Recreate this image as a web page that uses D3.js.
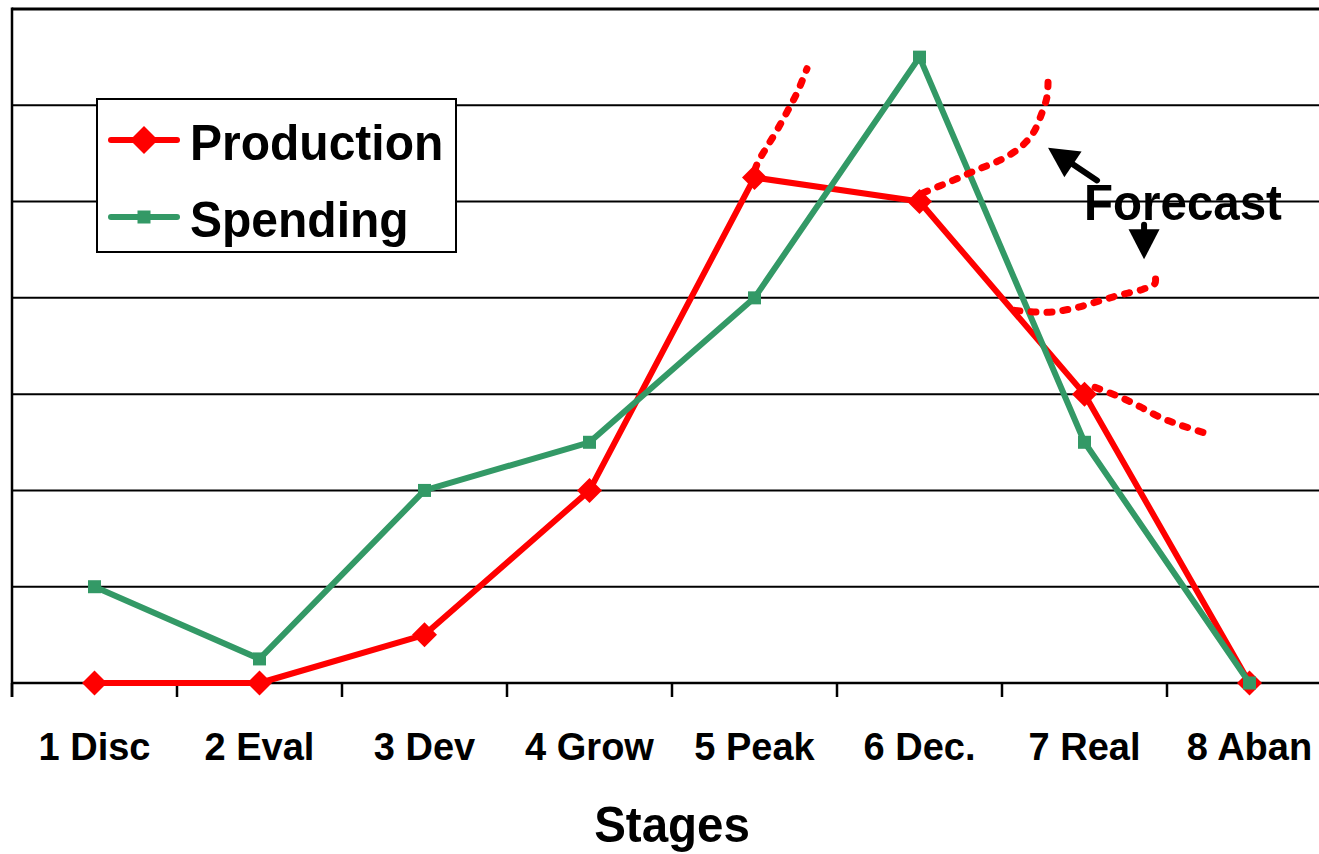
<!DOCTYPE html>
<html>
<head>
<meta charset="utf-8">
<script src="https://cdn.jsdelivr.net/npm/d3@7"></script>
<style>
  html, body { margin: 0; padding: 0; background: #fff; }
  svg { display: block; font-family: "Liberation Sans", Arial, Helvetica, sans-serif; font-weight: bold; }
</style>
</head>
<body>
<svg id="chart" width="1319" height="854"></svg>
<script>
// Stage categories along the x axis
const stages = ["1 Disc", "2 Eval", "3 Dev", "4 Grow", "5 Peak", "6 Dec.", "7 Real", "8 Aban"];
// Series values per stage
const production = [0, 0, 0.5, 2, 5.25, 5, 3, 0];
const spending   = [1, 0.25, 2, 2.5, 4, 6.5, 2.5, 0];
// Gridline values
const gridValues = [1, 2, 3, 4, 5, 6, 7];

// Forecast branches: [stage position (0 = first stage), value]
const forecastPeak = [[4.003, 5.33], [4.021, 5.41], [4.076, 5.57], [4.136, 5.74], [4.203, 5.95], [4.258, 6.13], [4.318, 6.38]];
const forecastDec  = [[5.021, 5.09], [5.203, 5.22], [5.348, 5.33], [5.488, 5.43], [5.609, 5.56], [5.688, 5.71], [5.742, 5.92], [5.773, 6.09], [5.779, 6.24]];
const forecastMid  = [[5.579, 3.87], [5.773, 3.85], [5.930, 3.89], [6.076, 3.96], [6.215, 4.03], [6.355, 4.09], [6.427, 4.15], [6.427, 4.24]];
const forecastReal = [[6.064, 3.07], [6.215, 2.97], [6.336, 2.87], [6.458, 2.76], [6.579, 2.68], [6.742, 2.59]];
const forecasts = [forecastPeak, forecastDec, forecastMid, forecastReal];

// "Forecast" note and its arrows: [[tailPos, tailVal], [tipPos, tipVal]]
const noteLabel = "Forecast";
const noteAnchor = [5.997, 4.81];
const noteArrows = [
  [[6.076, 5.22], [5.779, 5.56]],
  [[6.361, 4.76], [6.361, 4.40]]
];

const RED = "#ff0000";
const GREEN = "#339966";

const svg = d3.select("#chart");
const plotLeft = 12, plotRight = 1332, plotTop = 9, plotBottom = 683;

const x = d3.scaleBand().domain(stages).range([plotLeft, plotRight]).padding(0);
const bw = x.bandwidth();
const xPos = t => plotLeft + bw * (t + 0.5);
const y = d3.scaleLinear().domain([0, 7]).range([plotBottom, plotTop]);

// Horizontal gridlines
svg.append("g").selectAll("line")
  .data(gridValues.slice(0, -1))
  .join("line")
  .attr("x1", plotLeft).attr("x2", plotRight)
  .attr("y1", d => y(d)).attr("y2", d => y(d))
  .attr("stroke", "#000").attr("stroke-width", 2);

// Plot frame top edge
svg.append("line")
  .attr("x1", plotLeft).attr("x2", plotRight)
  .attr("y1", y(7)).attr("y2", y(7))
  .attr("stroke", "#000").attr("stroke-width", 3);

// Left axis
svg.append("line")
  .attr("x1", plotLeft).attr("x2", plotLeft)
  .attr("y1", y(7) - 1.5).attr("y2", plotBottom + 14)
  .attr("stroke", "#000").attr("stroke-width", 2.5);

// Bottom axis with category-boundary ticks
const xAxis = d3.axisBottom(x).tickSize(0).tickPadding(0).tickFormat(() => "");
const gx = svg.append("g").attr("transform", `translate(0,${plotBottom})`).call(xAxis);
gx.select(".domain").attr("stroke", "#000").attr("stroke-width", 2.5).attr("d", `M${plotLeft},0H${plotRight}`);
gx.selectAll(".tick line").remove();
svg.append("g").selectAll("line")
  .data(d3.range(stages.length + 1))
  .join("line")
  .attr("x1", i => plotLeft + bw * i).attr("x2", i => plotLeft + bw * i)
  .attr("y1", plotBottom).attr("y2", plotBottom + 14)
  .attr("stroke", "#000").attr("stroke-width", 2.5);

// Category labels
svg.append("g").selectAll("text")
  .data(stages)
  .join("text")
  .attr("x", d => x(d) + bw / 2)
  .attr("y", 760)
  .attr("text-anchor", "middle")
  .attr("font-size", 38)
  .attr("fill", "#000")
  .text(d => d);

// Axis title
svg.append("text")
  .attr("text-anchor", "middle")
  .attr("font-size", 47.5)
  .attr("transform", `translate(${(plotLeft + plotRight) / 2},842) scale(1,1.05)`)
  .text("Stages");

// Series lines and markers
const line = d3.line().x((d, i) => x(stages[i]) + bw / 2).y(d => y(d));

function diamond(cx, cy, r) {
  return `M${cx},${cy - r}L${cx + r},${cy}L${cx},${cy + r}L${cx - r},${cy}Z`;
}

svg.append("path").datum(production)
  .attr("d", line).attr("fill", "none")
  .attr("stroke", RED).attr("stroke-width", 6).attr("stroke-linejoin", "round");
svg.append("g").selectAll("path")
  .data(production)
  .join("path")
  .attr("d", (d, i) => diamond(x(stages[i]) + bw / 2, y(d), 12.5))
  .attr("fill", RED);

svg.append("path").datum(spending)
  .attr("d", line).attr("fill", "none")
  .attr("stroke", GREEN).attr("stroke-width", 6).attr("stroke-linejoin", "round");
svg.append("g").selectAll("rect")
  .data(spending)
  .join("rect")
  .attr("x", (d, i) => x(stages[i]) + bw / 2 - 6.5)
  .attr("y", d => y(d) - 6.5)
  .attr("width", 13).attr("height", 13)
  .attr("fill", GREEN);

// Dashed forecast branches
const fLine = d3.line().x(d => xPos(d[0])).y(d => y(d[1])).curve(d3.curveCatmullRom.alpha(0.5));
svg.append("g").selectAll("path")
  .data(forecasts)
  .join("path")
  .attr("d", fLine)
  .attr("fill", "none")
  .attr("stroke", RED)
  .attr("stroke-width", 7)
  .attr("stroke-linecap", "round")
  .attr("stroke-dasharray", "5,11");

// Forecast note
svg.append("text")
  .attr("font-size", 47.5)
  .attr("transform", `translate(${xPos(noteAnchor[0])},${y(noteAnchor[1])}) scale(1,1.04)`)
  .text(noteLabel);

const arrowG = svg.append("g");
noteArrows.forEach(([tail, tip]) => {
  const x1 = xPos(tail[0]), y1 = y(tail[1]);
  const x2 = xPos(tip[0]), y2 = y(tip[1]);
  const dx = x2 - x1, dy = y2 - y1;
  const len = Math.hypot(dx, dy);
  const ux = dx / len, uy = dy / len;
  const headLen = 30, headHalf = 15.5;
  const bx = x2 - ux * headLen, by = y2 - uy * headLen;
  arrowG.append("line")
    .attr("x1", x1).attr("y1", y1)
    .attr("x2", bx + ux * 2).attr("y2", by + uy * 2)
    .attr("stroke", "#000").attr("stroke-width", 6).attr("stroke-linecap", "round");
  arrowG.append("path")
    .attr("d", `M${x2},${y2}L${bx - uy * headHalf},${by + ux * headHalf}L${bx + uy * headHalf},${by - ux * headHalf}Z`)
    .attr("fill", "#000");
});

// Legend
const legend = svg.append("g");
legend.append("rect")
  .attr("x", 97).attr("y", 99).attr("width", 359).attr("height", 153)
  .attr("fill", "#fff").attr("stroke", "#000").attr("stroke-width", 2);

const legendItems = [
  { name: "Production", color: RED, marker: "diamond", ly: 140 },
  { name: "Spending", color: GREEN, marker: "square", ly: 217 }
];
legendItems.forEach(it => {
  legend.append("line")
    .attr("x1", 111).attr("x2", 177).attr("y1", it.ly).attr("y2", it.ly)
    .attr("stroke", it.color).attr("stroke-width", 6).attr("stroke-linecap", "round");
  if (it.marker === "diamond") {
    legend.append("path").attr("d", diamond(144, it.ly, 14)).attr("fill", it.color);
  } else {
    legend.append("rect").attr("x", 137.5).attr("y", it.ly - 6.5).attr("width", 13).attr("height", 13).attr("fill", it.color);
  }
  legend.append("text")
    .attr("font-size", 48)
    .attr("transform", `translate(190,${it.ly + 20}) scale(1,1.06)`)
    .text(it.name);
});
</script>
</body>
</html>
